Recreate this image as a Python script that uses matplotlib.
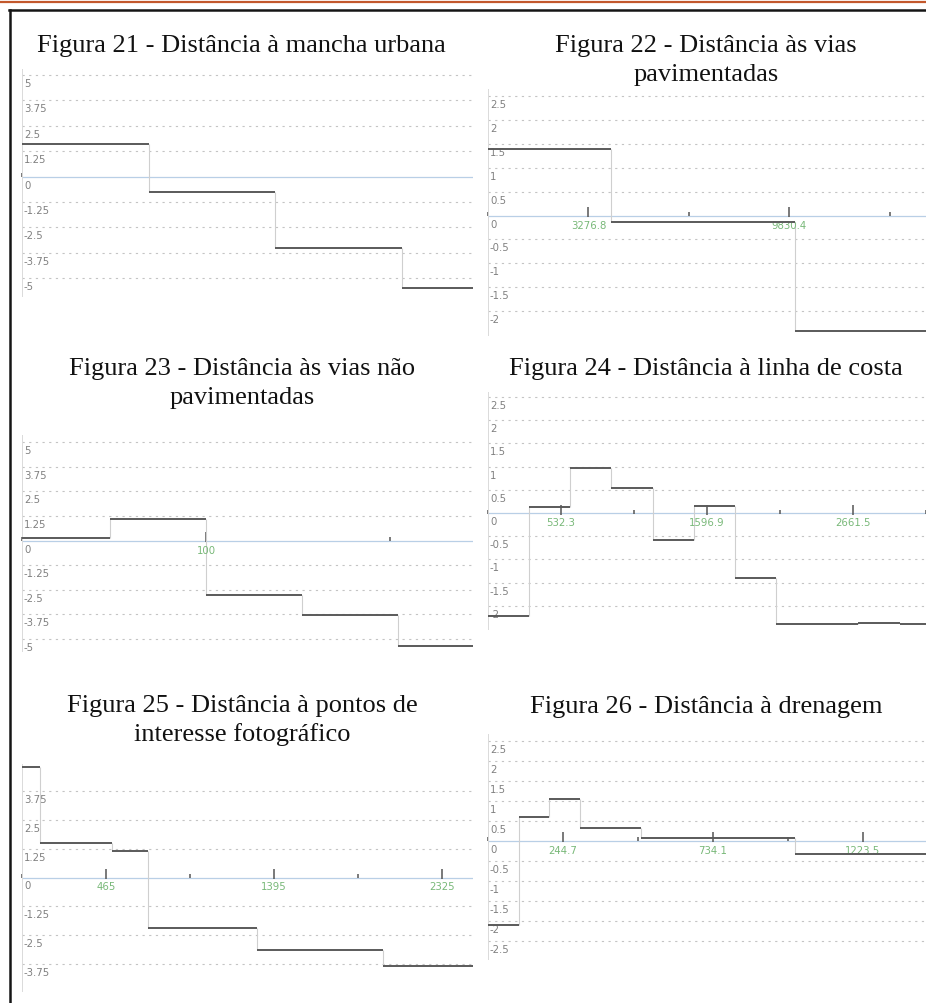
import matplotlib
matplotlib.use("Agg")
import matplotlib.pyplot as plt
from matplotlib.lines import Line2D
from matplotlib.transforms import offset_copy, blended_transform_factory

W, H = 926, 1004

# ---- data ----
f21_title = ["Figura 21 - Distância à mancha urbana"]
f21_edges = [0, 1000, 2000, 3000]
f21_values = [1.58, -0.74, -3.50, -5.52]
f21_yticks = [5, 3.75, 2.5, 1.25, 0, -1.25, -2.5, -3.75, -5]
f21_xmajor, f21_xlabels, f21_xminor = [], [], [0]

f22_title = ["Figura 22 - Distância às vias", "pavimentadas"]
f22_edges = [0, 4000, 10000]
f22_values = [1.39, -0.14, -2.42]
f22_yticks = [2.5, 2, 1.5, 1, 0.5, 0, -0.5, -1, -1.5, -2]
f22_xmajor = [3276.8, 9830.4]
f22_xlabels = ["3276.8", "9830.4"]
f22_xminor = [0, 6553.6, 13107.2]

f23_title = ["Figura 23 - Distância às vias não", "pavimentadas"]
f23_edges = [0, 48, 100, 152, 204]
f23_values = [0.11, 1.09, -2.75, -3.78, -5.37]
f23_yticks = [5, 3.75, 2.5, 1.25, 0, -1.25, -2.5, -3.75, -5]
f23_xmajor = [100]
f23_xlabels = ["100"]
f23_xminor = [0, 200]

f24_title = ["Figura 24 - Distância à linha de costa"]
f24_edges = [0, 300, 600, 900, 1200, 1500, 1800, 2100, 2400, 2700, 3000]
f24_values = [-2.22, 0.14, 0.97, 0.54, -0.58, 0.16, -1.41, -2.39, -2.39, -2.36, -2.39]
f24_yticks = [2.5, 2, 1.5, 1, 0.5, 0, -0.5, -1, -1.5, -2]
f24_xmajor = [532.3, 1596.9, 2661.5]
f24_xlabels = ["532.3", "1596.9", "2661.5"]
f24_xminor = [0, 1064.6, 2129.2, 3193.8]

f25_title = ["Figura 25 - Distância à pontos de", "interesse fotográfico"]
f25_edges = [0, 100, 500, 700, 1300, 2000]
f25_values = [4.79, 1.48, 1.14, -2.20, -3.14, -3.85]
f25_yticks = [3.75, 2.5, 1.25, 0, -1.25, -2.5, -3.75]
f25_xmajor = [465, 1395, 2325]
f25_xlabels = ["465", "1395", "2325"]
f25_xminor = [0, 930, 1860]

f26_title = ["Figura 26 - Distância à drenagem"]
f26_edges = [0, 100, 200, 300, 500, 1000]
f26_values = [-2.12, 0.60, 1.04, 0.33, 0.06, -0.33]
f26_yticks = [2.5, 2, 1.5, 1, 0.5, 0, -0.5, -1, -1.5, -2, -2.5]
f26_xmajor = [244.7, 734.1, 1223.5]
f26_xlabels = ["244.7", "734.1", "1223.5"]
f26_xminor = [0, 489.4, 978.8]

# ---- layout: axes box in px (left, top, right, bottom), limits, title spot ----
panels = [
    dict(title=f21_title, tx=241, ty=52, box=(22, 70, 473, 297), ylim=(-5.89, 5.30), xlim=(0, 3565),
         edges=f21_edges, values=f21_values, yticks=f21_yticks,
         xmajor=f21_xmajor, xlabels=f21_xlabels, xminor=f21_xminor),
    dict(title=f22_title, tx=706, ty=52, box=(488, 90, 926, 336), ylim=(-2.50, 2.65), xlim=(0, 14281),
         edges=f22_edges, values=f22_values, yticks=f22_yticks,
         xmajor=f22_xmajor, xlabels=f22_xlabels, xminor=f22_xminor),
    dict(title=f23_title, tx=242, ty=375, box=(22, 436, 473, 652), ylim=(-5.61, 5.36), xlim=(0, 245),
         edges=f23_edges, values=f23_values, yticks=f23_yticks,
         xmajor=f23_xmajor, xlabels=f23_xlabels, xminor=f23_xminor),
    dict(title=f24_title, tx=706, ty=375, box=(488, 393, 926, 630), ylim=(-2.50, 2.61), xlim=(0, 3193),
         edges=f24_edges, values=f24_values, yticks=f24_yticks,
         xmajor=f24_xmajor, xlabels=f24_xlabels, xminor=f24_xminor),
    dict(title=f25_title, tx=242, ty=712, box=(22, 765, 473, 992), ylim=(-4.92, 4.92), xlim=(0, 2498),
         edges=f25_edges, values=f25_values, yticks=f25_yticks,
         xmajor=f25_xmajor, xlabels=f25_xlabels, xminor=f25_xminor),
    dict(title=f26_title, tx=706, ty=713, box=(488, 735, 926, 960), ylim=(-2.96, 2.67), xlim=(0, 1429),
         edges=f26_edges, values=f26_values, yticks=f26_yticks,
         xmajor=f26_xmajor, xlabels=f26_xlabels, xminor=f26_xminor),
]

TITLE_LINE_GAP = 29  # px between baselines of a wrapped caption

STEP_COLOR = "#5a5a5a"
CONNECT_COLOR = "#cfcfcf"
GRID_COLOR = "#c4c4c4"
ZERO_COLOR = "#b9cfe6"
YLABEL_COLOR = "#808080"
XLABEL_COLOR = "#78b878"

fig = plt.figure(figsize=(W / 100, H / 100), dpi=100)


def px_rect(box):
    l, t, r, b = box
    return [l / W, 1 - b / H, (r - l) / W, (b - t) / H]


def draw_panel(p):
    ax = fig.add_axes(px_rect(p["box"]))
    ax.set_xlim(*p["xlim"])
    ax.set_ylim(*p["ylim"])
    ax.set_xticks([])
    ax.set_yticks([])
    for side in ("top", "right", "bottom"):
        ax.spines[side].set_visible(False)
    ax.spines["left"].set_color("#dadada")
    ax.spines["left"].set_linewidth(0.7)

    # horizontal guides
    for v in p["yticks"]:
        if v == 0:
            ax.axhline(0, color=ZERO_COLOR, lw=0.9, zorder=1)
        else:
            ax.axhline(v, color=GRID_COLOR, lw=0.8, linestyle=(0, (2, 4)), zorder=1)

    # y labels sit inside the plot, just under their guide line
    ylab_tr = offset_copy(blended_transform_factory(ax.transAxes, ax.transData),
                          fig=fig, x=2, y=-8, units="dots")
    for v in p["yticks"]:
        ax.text(0, v, f"{v:g}", transform=ylab_tr, ha="left", va="center",
                fontsize=7.3, color=YLABEL_COLOR, family="DejaVu Sans", zorder=3)

    # ticks on the zero line, pointing up
    tick_tr = offset_copy(ax.transData, fig=fig, y=3.5, units="dots")
    ax.plot(p["xmajor"], [0] * len(p["xmajor"]), ls="none", marker="|", ms=7, mew=1.1,
            color="#555555", transform=tick_tr, zorder=2, clip_on=False)
    tick_tr2 = offset_copy(ax.transData, fig=fig, y=1.5, units="dots")
    ax.plot(p["xminor"], [0] * len(p["xminor"]), ls="none", marker="|", ms=3, mew=1.1,
            color="#555555", transform=tick_tr2, zorder=2, clip_on=False)
    xlab_tr = offset_copy(ax.transData, fig=fig, y=-9, units="dots")
    for x, lab in zip(p["xmajor"], p["xlabels"]):
        ax.text(x, 0, lab, transform=xlab_tr, ha="center", va="center",
                fontsize=7.3, color=XLABEL_COLOR, family="DejaVu Sans", zorder=3)

    # step curve: level segments dark, joins light
    edges = p["edges"]
    vals = p["values"]
    rights = edges[1:] + [p["xlim"][1]]
    ax.hlines(vals, edges, rights, colors=STEP_COLOR, lw=1.4, zorder=4)
    ax.vlines(edges[1:], vals[:-1], vals[1:], colors=CONNECT_COLOR, lw=0.8, zorder=2)

    # caption above the chart, one text per wrapped line
    for i, line in enumerate(p["title"]):
        y = p["ty"] + i * TITLE_LINE_GAP
        fig.text(p["tx"] / W, 1 - y / H, line, ha="center", va="baseline",
                 family="Liberation Serif", fontsize=19, color="#111111")
    return ax


for p in panels:
    draw_panel(p)

# page frame: orange rule on top, black box edge
fig.add_artist(Line2D([0, 1], [1 - 3 / H, 1 - 3 / H], transform=fig.transFigure,
                      color="#c3582c", lw=1.6))
fig.add_artist(Line2D([9 / W, 1], [1 - 11 / H, 1 - 11 / H], transform=fig.transFigure,
                      color="#151515", lw=1.8))
fig.add_artist(Line2D([9.5 / W, 9.5 / W], [0, 1 - 11 / H], transform=fig.transFigure,
                      color="#151515", lw=1.8))

fig.savefig("out.png", dpi=100)
